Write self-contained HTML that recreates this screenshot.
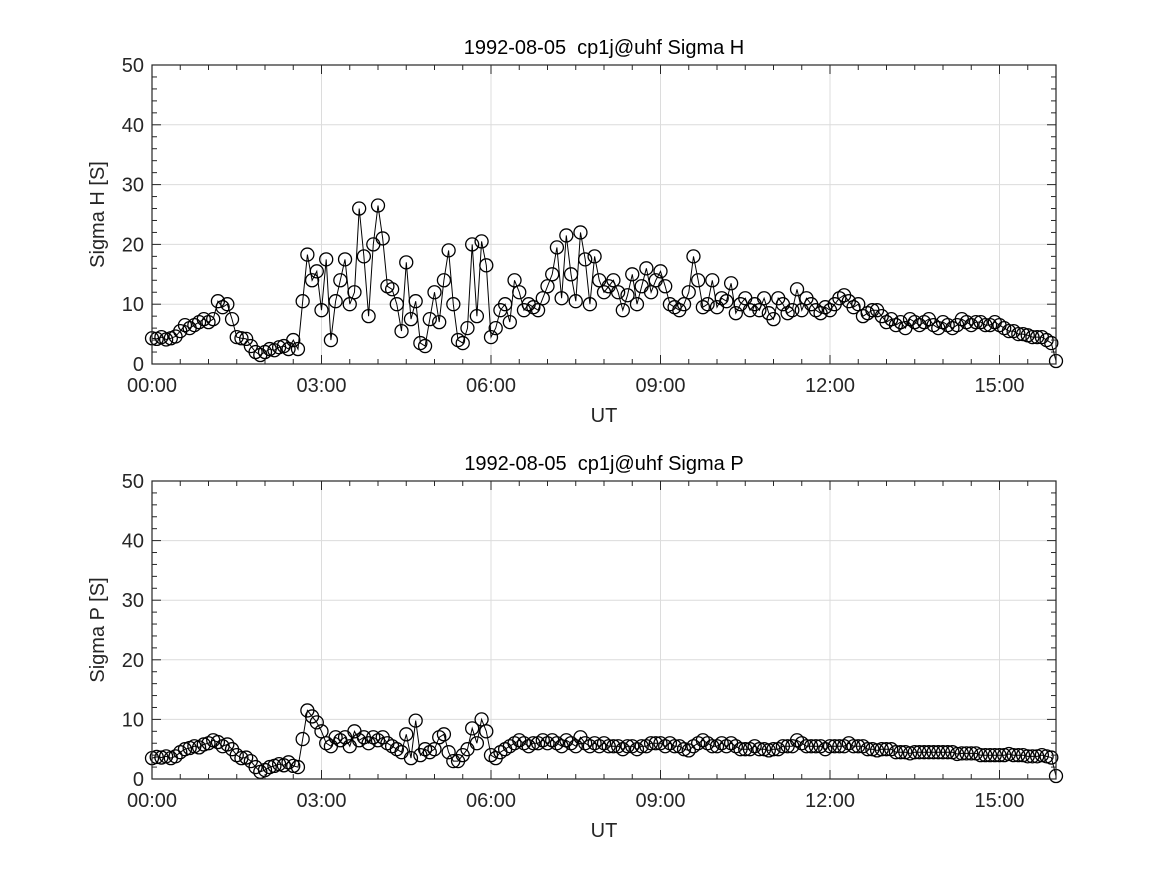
<!DOCTYPE html>
<html><head><meta charset="utf-8"><style>
html,body{margin:0;padding:0;background:#fff;}
svg{display:block;font-family:"Liberation Sans","DejaVu Sans",sans-serif;}
</style></head><body>
<svg id="chart" width="1167" height="875" viewBox="0 0 1167 875" xmlns="http://www.w3.org/2000/svg">
<rect width="1167" height="875" fill="#fff"/>
</svg>
<script>
const xTickHours = [0, 3, 6, 9, 12, 15];
const xTickLabels = ["00:00", "03:00", "06:00", "09:00", "12:00", "15:00"];
const yTicks = [0, 10, 20, 30, 40, 50];
const stepMinutes = 5;
const sigmaH = [
4.3,4.2,4.5,4.1,4.3,4.6,5.5,6.5,6,6.5,7,7.5,
7,7.5,10.5,9.5,10,7.5,4.5,4.3,4.2,3,2,1.5,
2,2.5,2.3,2.8,3,2.5,4,2.5,10.5,18.3,14,15.5,
9,17.5,4,10.5,14,17.5,10,12,26,18,8,20,
26.5,21,13,12.5,10,5.5,17,7.5,10.5,3.5,3,7.5,
12,7,14,19,10,4,3.5,6,20,8,20.5,16.5,
4.5,6,9,10,7,14,12,9,10,9.5,9,11,
13,15,19.5,11,21.5,15,10.5,22,17.5,10,18,14,
12,13,14,12,9,11.5,15,10,13,16,12,14,
15.5,13,10,9.5,9,10,12,18,14,9.5,10,14,
9.5,11,10.5,13.5,8.5,10,11,9,10,9,11,8.5,
7.5,11,10,8.5,9,12.5,9,11,10,9,8.5,9.5,
9,10,11,11.5,10.5,9.5,10,8,8.5,9,9,8,
7,7.5,6.5,7,6,7.5,7,6.5,7,7.5,6.5,6,
7,6.5,6,6.5,7.5,7,6.5,7,7,6.5,6.5,7,
6.5,6,5.5,5.5,5,5,4.8,4.5,4.5,4.5,4,3.5,
0.5];
const sigmaP = [
3.5,3.7,3.6,3.8,3.5,3.8,4.5,5,5.2,5.5,5.3,5.8,
6,6.5,6.2,5.5,5.8,5,4,3.5,3.6,3,2,1.2,
1.5,2,2.2,2.5,2.3,2.8,2.2,2,6.7,11.5,10.5,9.5,
8,6,5.5,7,6.5,7,5.5,8,6.5,7,6,7,
6.5,7,6,5.5,5,4.5,7.5,3.5,9.8,4,5,4.5,
5,7,7.5,4.5,3,3,4,5,8.5,6,10,8,
4,3.5,4.5,5,5.5,6,6.5,6,5.5,6,6,6.5,
6,6.5,6,5.5,6.5,6,5.5,7,6,5.5,6,5.5,
6,5.5,5.5,5.5,5,5.5,5.5,5,5.5,5.5,6,6,
6,5.5,6,5.5,5.5,5,4.8,5.5,6,6.5,6,5.5,
5.5,6,5.5,6,5.5,5,5,5,5.5,5,5,4.8,
5,5,5.5,5.5,5.5,6.5,6,5.5,5.5,5.5,5.5,5,
5.5,5.5,5.5,5.5,6,5.5,5.5,5.5,5,5,4.8,5,
5,5,4.5,4.5,4.5,4.3,4.5,4.5,4.5,4.5,4.5,4.5,
4.5,4.5,4.5,4.2,4.3,4.3,4.3,4.3,4,4,4,4,
4,4,4.2,4,4,4,3.8,3.8,3.8,4,3.8,3.6,
0.5];

const NS = "http://www.w3.org/2000/svg";
const svg = document.getElementById('chart');
function mk(tag, attrs, parent, text){
  const e = document.createElementNS(NS, tag);
  for (const k in attrs) e.setAttribute(k, attrs[k]);
  if (text !== undefined) e.textContent = text;
  parent.appendChild(e); return e;
}

function panel(cfg){
  const L=152, R=1056, T=cfg.top, B=cfg.bottom;
  const xs = h => L + (h/16)*(R-L);
  const ys = v => B - (v/50)*(B-T);
  const g = mk('g', {}, svg);
  
  
  xTickHours.forEach(h=>{ if(h>0){ const l=mk('line',{x1:xs(h),x2:xs(h),y1:T,y2:B,stroke:'#dcdcdc','stroke-width':1},g);
      }});
  yTicks.forEach(v=>{ if(v>0&&v<50){ const l=mk('line',{x1:L,x2:R,y1:ys(v),y2:ys(v),stroke:'#dcdcdc','stroke-width':1},g);
      }});
  const pts = cfg.data.map((v,i)=>xs(i*stepMinutes/60).toFixed(1)+','+ys(v).toFixed(1)).join(' ');
  const pl = mk('polyline',{points:pts,fill:'none',stroke:'#000','stroke-width':1},g);
  
  
  cfg.data.forEach((v,i)=>{
    const c = mk('circle',{cx:xs(i*stepMinutes/60),cy:ys(v),r:6.5,fill:'none',stroke:'#000','stroke-width':1.3},g);
    
    
  });
  const box = mk('rect',{x:L,y:T,width:R-L,height:B-T,fill:'none',stroke:'#262626','stroke-width':1.2},g);
   
  for(let m=0;m<=16*60;m+=30){
    const x=xs(m/60), major=(m%180===0), len=major?9:5;
    mk('line',{x1:x,x2:x,y1:B,y2:B-len,stroke:'#262626','stroke-width':1},g);
    mk('line',{x1:x,x2:x,y1:T,y2:T+len,stroke:'#262626','stroke-width':1},g);
  }
  for(let v=0;v<=50;v+=2){
    const y=ys(v), major=(v%10===0), len=major?9:5;
    mk('line',{x1:L,x2:L+len,y1:y,y2:y,stroke:'#262626','stroke-width':1},g);
    mk('line',{x1:R,x2:R-len,y1:y,y2:y,stroke:'#262626','stroke-width':1},g);
  }
  xTickHours.forEach((h,i)=>{
    const t=mk('text',{x:xs(h),y:B+28,'text-anchor':'middle','font-size':20,fill:'#262626'},g,xTickLabels[i]);
     
  });
  yTicks.forEach(v=>{
    const t=mk('text',{x:L-8,y:ys(v)+7,'text-anchor':'end','font-size':20,fill:'#262626'},g,String(v));
     
  });
  const xt=mk('text',{x:(L+R)/2,y:B+58,'text-anchor':'middle','font-size':20,fill:'#262626'},g,'UT');
   
  const yt=mk('text',{x:0,y:0,'text-anchor':'middle','font-size':20,fill:'#262626',transform:`translate(104,${(T+B)/2}) rotate(-90)`},g,cfg.ylabel);
   
  const tt=mk('text',{x:(L+R)/2,y:T-11,'text-anchor':'middle','font-size':20,fill:'#000'},g,cfg.title);
  tt.setAttribute('xml:space','preserve'); tt.style.whiteSpace='pre';
   
}
panel({name:'sigma-h-panel',series:'sigma-h',top:65,bottom:364,data:sigmaH,ylabel:'Sigma H [S]',title:'1992-08-05  cp1j@uhf Sigma H'});
panel({name:'sigma-p-panel',series:'sigma-p',top:481,bottom:779,data:sigmaP,ylabel:'Sigma P [S]',title:'1992-08-05  cp1j@uhf Sigma P'});
</script>
</body></html>
